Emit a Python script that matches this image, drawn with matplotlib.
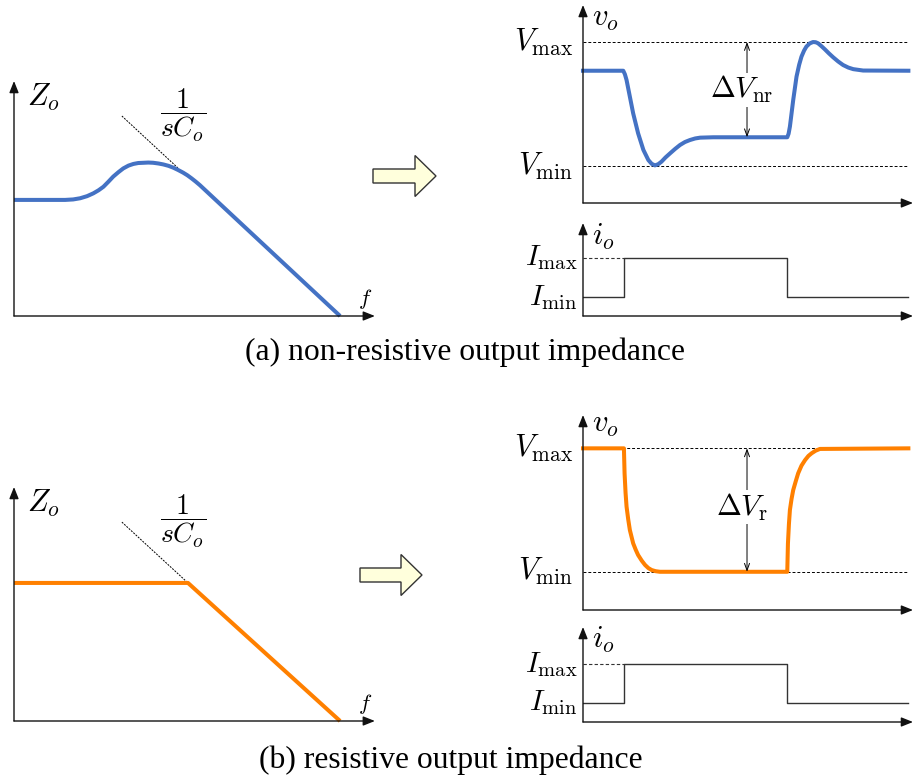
import matplotlib
matplotlib.use("Agg")
import matplotlib.pyplot as plt
from matplotlib.patches import FancyArrow

plt.rcParams['mathtext.fontset'] = 'cm'
plt.rcParams['font.family'] = ['Liberation Serif', 'DejaVu Serif']

W, H = 914, 780

# impedance curves (x: log frequency, y: |Zo|)
zo_nr_f = [0, 1.47, 1.70, 1.90, 2.10, 2.28, 2.43, 2.57, 2.71, 2.85, 3.00, 3.14, 3.29, 3.43, 3.57,
           3.72, 3.86, 4.00, 4.15, 4.29, 4.44, 4.58, 4.72, 4.86, 4.98, 5.10, 5.22, 5.34, 9.37]
zo_nr_z = [4.94, 4.94, 4.96, 5.01, 5.10, 5.22, 5.35, 5.50, 5.71, 5.93, 6.12, 6.28, 6.40, 6.47, 6.51,
           6.52, 6.53, 6.52, 6.49, 6.45, 6.39, 6.31, 6.21, 6.10, 5.99, 5.86, 5.72, 5.57, 0.0]
asym_nr_f = [3.1, 4.71]
asym_nr_z = [8.51, 6.30]

zo_r_f = [0, 5.0, 9.37]
zo_r_z = [5.9, 5.9, 0.0]
asym_r_f = [3.1, 4.97]
asym_r_z = [8.5, 5.94]

# output voltage transients
vo_nr_t = [0, 1.22, 1.27, 1.32, 1.42, 1.52, 1.67, 1.83, 1.98, 2.08, 2.18, 2.28, 2.38, 2.50, 2.64,
           2.79, 2.94, 3.09, 3.24, 3.40, 3.55, 3.95,
           6.19, 6.23, 6.27, 6.37, 6.47, 6.55, 6.62, 6.70, 6.77, 6.87, 6.97, 7.05, 7.12, 7.22,
           7.33, 7.45, 7.58, 7.73, 7.88, 8.04, 8.19, 8.49, 9.86]
vo_nr_v = [6.68, 6.68, 6.50, 6.21, 5.37, 4.53, 3.52, 2.68, 2.17, 1.98, 1.90, 1.96, 2.09, 2.30, 2.51,
           2.73, 2.93, 3.08, 3.18, 3.26, 3.30, 3.32,
           3.32, 3.50, 3.86, 5.20, 6.38, 6.98, 7.39, 7.70, 7.90, 8.06, 8.13, 8.12, 8.07, 7.93,
           7.76, 7.56, 7.36, 7.15, 6.97, 6.84, 6.76, 6.69, 6.68]
vmax_nr, vmin_nr, vlow_nr = 8.13, 1.87, 3.32

vo_r_t = [0, 1.24, 1.26, 1.29, 1.32, 1.37, 1.42, 1.52, 1.60, 1.67, 1.78, 1.88, 1.98, 2.08, 2.20, 2.33,
          6.19, 6.21, 6.24, 6.27, 6.32, 6.37, 6.45, 6.52, 6.62, 6.73, 6.83, 6.93, 7.05, 7.18, 9.86]
vo_r_v = [8.29, 8.29, 7.00, 6.00, 5.30, 4.65, 4.10, 3.42, 3.08, 2.82, 2.53, 2.31, 2.15, 2.05, 1.99, 1.96,
          1.96, 3.40, 4.40, 5.13, 5.70, 6.15, 6.62, 7.01, 7.40, 7.69, 7.90, 8.04, 8.17, 8.26, 8.29]
vmax_r, vmin_r = 8.29, 1.96

# load current steps
io_t = [0, 1.24, 6.19, 9.85]
io_nr = [2.0, 6.24, 2.0, 2.0]
io_r = [2.0, 6.1, 2.0, 2.0]

blue = '#4472C4'
orange = '#FF8000'

fig = plt.figure(figsize=(W / 100, H / 100), dpi=100)


def panel(left, top, right, bottom):
    ax = fig.add_axes([left / W, 1 - bottom / H, (right - left) / W, (bottom - top) / H])
    ax.set_xlim(0, 10)
    ax.set_ylim(0, 10)
    ax.axis('off')
    return ax


def axes_arrows(ax, xend, yend=10):
    kw = dict(arrowstyle='-|>,head_length=0.5,head_width=0.2', color='#111111', lw=1.0,
              shrinkA=0, shrinkB=0, mutation_scale=14)
    ax.annotate('', xy=(0, yend), xytext=(0, 0), arrowprops=kw, annotation_clip=False)
    ax.annotate('', xy=(xend, 0), xytext=(0, 0), arrowprops=kw, annotation_clip=False)


def zo_panel(ax, f, z, af, az, color):
    axes_arrows(ax, 10.37)
    ax.plot(af, az, color='black', lw=0.7, dashes=(2, 1.2), clip_on=False)
    ax.plot(f, z, color=color, lw=2.9, clip_on=False, solid_capstyle='butt', solid_joinstyle='round')
    ax.text(0.38, 9.3, r'$Z_o$', fontsize=22, ha='left', va='center')
    ax.text(4.86, 8.55, r'$\dfrac{1}{sC_o}$', fontsize=20, ha='center', va='center')
    ax.text(10.1, 0.72, r'$f$', fontsize=16, ha='center', va='center')


def vo_panel(ax, t, v, vmax, vmin, vlow, color, dlabel, ly, vy):
    axes_arrows(ax, 10)
    for lvl in (vmax, vmin):
        ax.plot([0, 9.82], [lvl, lvl], color='black', lw=0.7, dashes=(3, 2))
    ax.plot(t, v, color=color, lw=2.9, clip_on=False, solid_joinstyle='round')
    ax.annotate('', xy=(4.97, vmax), xytext=(4.97, vlow),
                arrowprops=dict(arrowstyle='<->,head_length=0.5,head_width=0.18', lw=0.7,
                                color='black', shrinkA=0, shrinkB=0))
    ax.text(4.82, ly, dlabel, fontsize=21.5, ha='center', va='center',
            bbox=dict(facecolor='white', edgecolor='none', pad=1))
    ax.text(0.27, vy, r'$v_o$', fontsize=22, ha='left', va='center')
    ax.text(-0.3, vmax, r'$V_{\mathrm{max}}$', fontsize=22, ha='right', va='center')
    ax.text(-0.3, vmin, r'$V_{\mathrm{min}}$', fontsize=22, ha='right', va='center')


def io_panel(ax, t, i, iy):
    axes_arrows(ax, 10)
    ax.plot([0, t[1]], [i[1], i[1]], color='#333333', lw=0.8, dashes=(3, 2))
    ax.step(t, i, where='post', color='#333333', lw=1.0)
    ax.text(0.27, iy, r'$i_o$', fontsize=22, ha='left', va='center')
    ax.text(-0.18, i[1], r'$I_{\mathrm{max}}$', fontsize=21, ha='right', va='center')
    ax.text(-0.18, i[0], r'$I_{\mathrm{min}}$', fontsize=21, ha='right', va='center')


# (a) non-resistive
zo_panel(panel(14, 81, 362, 316), zo_nr_f, zo_nr_z, asym_nr_f, asym_nr_z, blue)
vo_panel(panel(583, 5, 913, 203), vo_nr_t, vo_nr_v, vmax_nr, vmin_nr, vlow_nr, blue,
         r'$\Delta V_{\mathrm{nr}}$', 5.71, 9.34)
io_panel(panel(583, 223, 913, 316), io_t, io_nr, 8.5)

# (b) resistive
zo_panel(panel(14, 487, 362, 721), zo_r_f, zo_r_z, asym_r_f, asym_r_z, orange)
vo_panel(panel(583, 415, 913, 610), vo_r_t, vo_r_v, vmax_r, vmin_r, vmin_r, orange,
         r'$\Delta V_{\mathrm{r}}$', 5.28, 9.5)
io_panel(panel(583, 627, 913, 722), io_t, io_r, 8.6)

# overlay for block arrows and captions (pixel coordinates)
ov = fig.add_axes([0, 0, 1, 1], zorder=-1)
ov.set_xlim(0, W)
ov.set_ylim(H, 0)
ov.axis('off')
for x0, y0, length in ((373, 176, 63), (360, 575, 62)):
    ov.add_patch(FancyArrow(x0, y0, length, 0, width=14, head_width=41, head_length=21,
                            length_includes_head=True, facecolor='#FFFFDC', edgecolor='#333333', lw=1.0))
ov.text(465, 352, '(a) non-resistive output impedance', fontsize=22.8, ha='center', va='center')
ov.text(451, 760, '(b) resistive output impedance', fontsize=22.8, ha='center', va='center')

fig.savefig('out.png', dpi=100)
